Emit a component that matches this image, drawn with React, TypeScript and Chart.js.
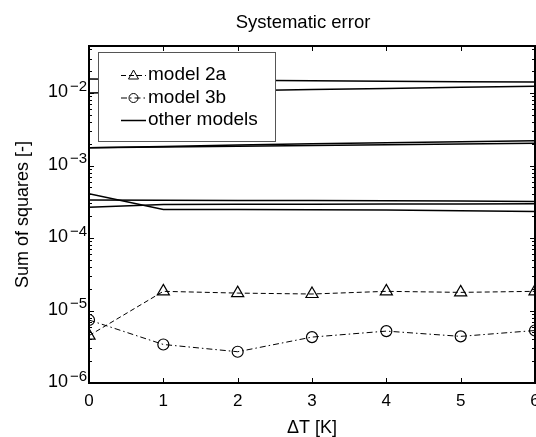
import React, { useEffect, useRef } from "react";
import { Chart, registerables } from "chart.js";

Chart.register(...registerables);

// ---------- data ----------
const xValues = [0, 1, 2, 3, 4, 5, 6];
const model2a = [4.5e-6, 1.84e-5, 1.74e-5, 1.69e-5, 1.84e-5, 1.78e-5, 1.84e-5];
const model3b = [7.4e-6, 3.4e-6, 2.7e-6, 4.3e-6, 5.2e-6, 4.4e-6, 5.3e-6];
const otherA = [1.56e-2, 1.54e-2, 1.51e-2, 1.48e-2, 1.46e-2, 1.44e-2, 1.42e-2];
const otherB = [1.0e-2, 1.04e-2, 1.08e-2, 1.12e-2, 1.16e-2, 1.2e-2, 1.24e-2];
const otherC = [1.76e-3, 1.84e-3, 1.92e-3, 2.0e-3, 2.07e-3, 2.14e-3, 2.2e-3];
const otherD = [1.76e-3, 1.8e-3, 1.85e-3, 1.89e-3, 1.94e-3, 1.98e-3, 2.03e-3];
const otherE = [3.34e-4, 3.33e-4, 3.31e-4, 3.29e-4, 3.27e-4, 3.24e-4, 3.2e-4];
const otherF = [2.67e-4, 2.91e-4, 2.92e-4, 2.93e-4, 2.94e-4, 2.96e-4, 2.97e-4];
const otherG = [4.09e-4, 2.48e-4, 2.47e-4, 2.46e-4, 2.44e-4, 2.38e-4, 2.33e-4];
const otherSeries = [otherA, otherB, otherC, otherD, otherE, otherF, otherG];

const yTickValues = [1e-6, 1e-5, 1e-4, 1e-3, 1e-2];
const yTickBase = "10";
const yTickExponents = ["−6", "−5", "−4", "−3", "−2"];
const legendLabels = ["model 2a", "model 3b", "other models"];
const titleText = "Systematic error";
const xTitleText = "ΔT [K]";
const yTitleText = "Sum of squares [-]";

const FONT = "'Liberation Sans', Arial, Helvetica, sans-serif";
const DASH_2A = [5, 3];
const DASH_3B = [6, 3, 1.5, 3];

const toPoints = (arr: number[]) => arr.map((v, i) => ({ x: xValues[i], y: v }));

const framePlugin = {
  id: "frameAndLegend",
  afterDatasetsDraw(chart: any) {
    const { ctx, chartArea } = chart;
    const { left, right, top, bottom } = chartArea;
    const xs = chart.scales.x;
    const ys = chart.scales.y;
    ctx.save();
    ctx.strokeStyle = "#000";
    ctx.lineWidth = 1;
    ctx.setLineDash([]);
    ctx.beginPath();
    for (const t of xs.ticks) {
      const px = Math.round(xs.getPixelForValue(t.value)) + 0.5;
      ctx.moveTo(px, bottom);
      ctx.lineTo(px, bottom - 5);
      ctx.moveTo(px, top);
      ctx.lineTo(px, top + 5);
    }
    for (let d = -7; d <= -1; d++) {
      for (let m = 1; m <= 9; m++) {
        const v = m * Math.pow(10, d);
        if (v < ys.min || v > ys.max) continue;
        const py = Math.round(ys.getPixelForValue(v)) + 0.5;
        const len = m === 1 ? 5 : 3;
        ctx.moveTo(left, py);
        ctx.lineTo(left + len, py);
        ctx.moveTo(right, py);
        ctx.lineTo(right - len, py);
      }
    }
    ctx.stroke();
    ctx.lineWidth = 2;
    ctx.strokeRect(left, top, right - left, bottom - top);

    // y tick labels: 10 with superscript exponent
    ctx.fillStyle = "#000";
    ctx.textBaseline = "alphabetic";
    yTickValues.forEach((v, i) => {
      const py = ys.getPixelForValue(v);
      ctx.font = `15px ${FONT}`;
      ctx.textAlign = "right";
      const ew = ctx.measureText(yTickExponents[i]).width;
      ctx.fillText(yTickExponents[i], left - 2, py - 2.5);
      ctx.font = `18px ${FONT}`;
      ctx.fillText(yTickBase, left - 4 - ew, py + 4);
    });

    // title
    ctx.font = `18.5px ${FONT}`;
    ctx.textAlign = "center";
    ctx.textBaseline = "middle";
    ctx.fillText(titleText, 303, 23);

    // legend
    const bx = 98, by = 52, bw = 177, bh = 89;
    ctx.fillStyle = "#fff";
    ctx.fillRect(bx, by, bw, bh);
    ctx.lineWidth = 1;
    ctx.strokeStyle = "#555";
    ctx.strokeRect(bx + 0.5, by + 0.5, bw, bh);
    const rows = [75, 97.5, 120];
    const x0 = 121, x1 = 146, xm = 133.5;
    ctx.font = `19px ${FONT}`;
    ctx.textBaseline = "middle";
    ctx.textAlign = "left";
    rows.forEach((ry, i) => {
      ctx.strokeStyle = "#000";
      ctx.lineWidth = i === 2 ? 1.5 : 1;
      ctx.setLineDash(i === 0 ? DASH_2A : i === 1 ? DASH_3B : []);
      ctx.beginPath();
      ctx.moveTo(x0, ry + 0.5);
      ctx.lineTo(x1, ry + 0.5);
      ctx.stroke();
      ctx.setLineDash([]);
      if (i === 0) {
        ctx.beginPath();
        ctx.moveTo(xm, ry - 5);
        ctx.lineTo(xm + 5, ry + 4);
        ctx.lineTo(xm - 5, ry + 4);
        ctx.closePath();
        ctx.stroke();
      } else if (i === 1) {
        ctx.beginPath();
        ctx.arc(xm, ry + 0.5, 4.5, 0, Math.PI * 2);
        ctx.stroke();
      }
      ctx.fillStyle = "#000";
      ctx.fillText(legendLabels[i], 148, ry);
    });
    ctx.restore();
  },
};

export default function App() {
  const ref = useRef<HTMLCanvasElement | null>(null);

  useEffect(() => {
    document.body.style.margin = "0";
    const canvas = ref.current;
    if (!canvas) return;
    Chart.defaults.font.family = FONT;
    Chart.defaults.color = "#000";

    const datasets: any[] = otherSeries.map((s, i) => ({
      label: i === 0 ? legendLabels[2] : "",
      data: toPoints(s),
      borderColor: "#000",
      borderWidth: 1.5,
      pointRadius: 0,
      fill: false,
      order: 2,
    }));
    datasets.push({
      label: legendLabels[0],
      data: toPoints(model2a),
      borderColor: "#000",
      borderWidth: 1,
      borderDash: DASH_2A,
      pointStyle: "triangle",
      pointRadius: 7,
      pointBorderWidth: 1.2,
      pointBackgroundColor: "rgba(0,0,0,0)",
      pointBorderColor: "#000",
      fill: false,
      order: 1,
    });
    datasets.push({
      label: legendLabels[1],
      data: toPoints(model3b),
      borderColor: "#000",
      borderWidth: 1,
      borderDash: DASH_3B,
      pointStyle: "circle",
      pointRadius: 5.5,
      pointBorderWidth: 1.2,
      pointBackgroundColor: "rgba(0,0,0,0)",
      pointBorderColor: "#000",
      fill: false,
      order: 1,
    });

    const chart = new Chart(canvas, {
      type: "line",
      data: { datasets },
      options: {
        animation: false,
        responsive: false,
        devicePixelRatio: 1,
        layout: { autoPadding: false, padding: { left: 0, right: 1, top: 46, bottom: 0 } },
        plugins: {
          legend: { display: false },
          tooltip: { enabled: false },
          title: { display: false },
        },
        scales: {
          x: {
            type: "linear",
            min: 0,
            max: 6,
            ticks: { stepSize: 1, color: "#000", font: { size: 17 }, padding: 8, maxRotation: 0 },
            grid: { display: false, drawTicks: false },
            border: { display: false },
            title: {
              display: true,
              text: xTitleText,
              color: "#000",
              font: { size: 18, lineHeight: 1 },
              padding: { top: 0, bottom: 0 },
            },
            afterFit: (s: any) => {
              s.height = 54;
              s.paddingLeft = 0;
              s.paddingRight = 0;
            },
          },
          y: {
            type: "logarithmic",
            min: 1e-6,
            max: Math.pow(10, -1.35),
            ticks: { display: false },
            afterBuildTicks: (s: any) => {
              s.ticks = yTickValues.map((v) => ({ value: v }));
            },
            grid: { display: false, drawTicks: false },
            border: { display: false },
            title: {
              display: true,
              text: yTitleText,
              color: "#000",
              font: { size: 18 },
              padding: { top: 12, bottom: 0 },
            },
            afterFit: (s: any) => {
              s.width = 89;
              s.paddingTop = 0;
              s.paddingBottom = 0;
            },
          },
        },
      },
      plugins: [framePlugin],
    });
    return () => chart.destroy();
  }, []);

  return (
    <div style={{ position: "absolute", left: 0, top: 0, width: 536, height: 437, background: "#fff" }}>
      <canvas ref={ref} width={536} height={437} style={{ display: "block" }} />
    </div>
  );
}
